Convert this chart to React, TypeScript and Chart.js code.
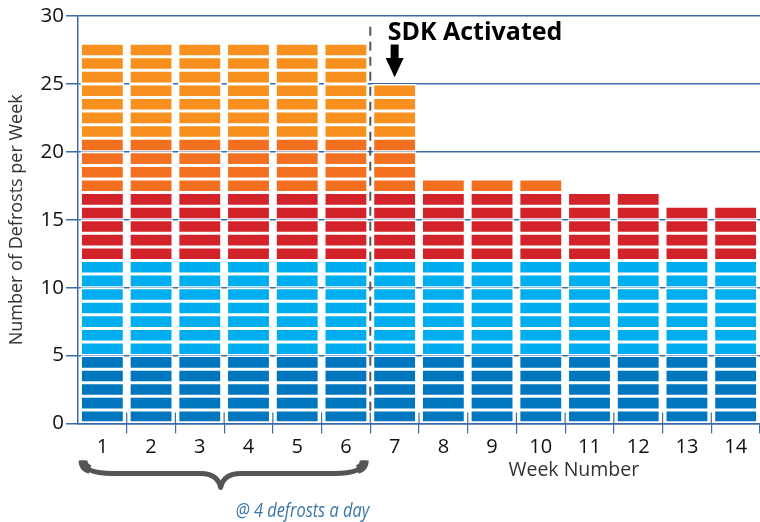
import React, { useEffect, useRef } from "react";
import { Chart, registerables } from "chart.js";

Chart.register(...registerables);

const weeks = ["1", "2", "3", "4", "5", "6", "7", "8", "9", "10", "11", "12", "13", "14"];
// number of defrost blocks of each colour per week (stacked bottom → top)
const darkBlueDefrosts = [5, 5, 5, 5, 5, 5, 5, 5, 5, 5, 5, 5, 5, 5];
const lightBlueDefrosts = [7, 7, 7, 7, 7, 7, 7, 7, 7, 7, 7, 7, 7, 7];
const redDefrosts = [5, 5, 5, 5, 5, 5, 5, 5, 5, 5, 5, 5, 4, 4];
const darkOrangeDefrosts = [4, 4, 4, 4, 4, 4, 4, 1, 1, 1, 0, 0, 0, 0];
const lightOrangeDefrosts = [7, 7, 7, 7, 7, 7, 4, 0, 0, 0, 0, 0, 0, 0];
const yTicks = [0, 5, 10, 15, 20, 25, 30];

const annotationText = "SDK Activated";
const braceText = "@ 4 defrosts a day";
const xTitle = "Week Number";
const yTitle = "Number of Defrosts per Week";

const groups: { counts: number[]; color: string }[] = [
  { counts: darkBlueDefrosts, color: "#0076BF" },
  { counts: lightBlueDefrosts, color: "#00ADEE" },
  { counts: redDefrosts, color: "#D2232A" },
  { counts: darkOrangeDefrosts, color: "#F37021" },
  { counts: lightOrangeDefrosts, color: "#F7901E" },
];

const AXIS_BLUE = "#3A69AC";

function buildDatasets() {
  const ds: any[] = [];
  groups.forEach((g) => {
    const max = Math.max(...g.counts);
    for (let k = 0; k < max; k++) {
      ds.push({
        data: g.counts.map((c) => (c > k ? 1 : null)),
        backgroundColor: g.color,
        borderColor: "#ffffff",
        borderWidth: 1.5,
        borderSkipped: false,
        stack: "s",
        categoryPercentage: 1,
        barPercentage: 0.9,
      });
    }
  });
  return ds;
}

const annotations = {
  id: "annotations",
  beforeDatasetsDraw(chart: any) {
    const { ctx } = chart;
    const x = chart.scales.x;
    const y = chart.scales.y;
    ctx.save();
    // tick marks crossing the x axis upward
    ctx.strokeStyle = AXIS_BLUE;
    ctx.lineWidth = 1.2;
    for (let i = 0; i < weeks.length - 1; i++) {
      const px = (x.getPixelForValue(i) + x.getPixelForValue(i + 1)) / 2;
      ctx.beginPath();
      ctx.moveTo(px, y.bottom - 11);
      ctx.lineTo(px, y.bottom);
      ctx.stroke();
    }
    // dashed separator between week 6 and 7
    const dx = (x.getPixelForValue(5) + x.getPixelForValue(6)) / 2;
    ctx.strokeStyle = "#555555";
    ctx.lineWidth = 2;
    ctx.setLineDash([9, 6]);
    ctx.beginPath();
    ctx.moveTo(dx, y.getPixelForValue(29.2));
    ctx.lineTo(dx, y.bottom - 11);
    ctx.stroke();
    ctx.restore();
  },
  afterDraw(chart: any) {
    const { ctx } = chart;
    const x = chart.scales.x;
    const y = chart.scales.y;
    ctx.save();
    // arrow + label above week 7
    const ax = x.getPixelForValue(6);
    const shaftTop = y.getPixelForValue(27.9);
    const headTop = y.getPixelForValue(26.9);
    const tip = y.getPixelForValue(25.5);
    ctx.fillStyle = "#000000";
    ctx.fillRect(ax - 4, shaftTop, 8, headTop - shaftTop + 1);
    ctx.beginPath();
    ctx.moveTo(ax - 9, headTop);
    ctx.lineTo(ax + 9, headTop);
    ctx.lineTo(ax, tip);
    ctx.closePath();
    ctx.fill();
    ctx.font = "bold 25px 'Open Sans'";
    ctx.textAlign = "left";
    ctx.textBaseline = "alphabetic";
    ctx.fillText(annotationText, ax - 7, y.getPixelForValue(28.25));

    // brace under weeks 1-6
    const x0 = x.getPixelForValue(0) - (x.getPixelForValue(1) - x.getPixelForValue(0)) / 2 + 1;
    const x1 = (x.getPixelForValue(5) + x.getPixelForValue(6)) / 2 - 2;
    const xc = (x0 + x1) / 2 - 3;
    const yTop = y.bottom + 37;
    const yMid = y.bottom + 50;
    const yTip = y.bottom + 64;
    ctx.strokeStyle = "#555555";
    ctx.lineWidth = 5;
    ctx.lineJoin = "round";
    ctx.beginPath();
    ctx.moveTo(x0 + 4, yTop);
    ctx.quadraticCurveTo(x0 + 4, yMid, x0 + 34, yMid);
    ctx.lineTo(xc - 20, yMid);
    ctx.quadraticCurveTo(xc - 3, yMid, xc, yTip);
    ctx.quadraticCurveTo(xc + 3, yMid, xc + 20, yMid);
    ctx.lineTo(x1 - 34, yMid);
    ctx.quadraticCurveTo(x1 - 4, yMid, x1 - 4, yTop);
    ctx.stroke();
    ctx.lineWidth = 9;
    ctx.beginPath();
    ctx.moveTo(x0 + 4, yTop);
    ctx.quadraticCurveTo(x0 + 4, yTop + 7, x0 + 11, yTop + 9);
    ctx.moveTo(x1 - 4, yTop);
    ctx.quadraticCurveTo(x1 - 4, yTop + 7, x1 - 11, yTop + 9);
    ctx.stroke();

    // italic note
    ctx.fillStyle = "#3A77A8";
    ctx.font = "italic 20px 'Open Sans'";
    ctx.textAlign = "right";
    ctx.textBaseline = "alphabetic";
    ctx.save();
    ctx.translate(x1 + 1, y.bottom + 93);
    ctx.scale(0.82, 1);
    ctx.fillText(braceText, 0, 0);
    ctx.restore();

    // x axis title
    ctx.fillStyle = "#333333";
    ctx.font = "19.5px 'Open Sans'";
    ctx.textAlign = "center";
    ctx.textBaseline = "middle";
    ctx.fillText(xTitle, x.left + (x.right - x.left) * 0.727, y.bottom + 47);
    ctx.restore();
  },
};

export default function App() {
  const canvasRef = useRef<HTMLCanvasElement | null>(null);

  useEffect(() => {
    document.body.style.margin = "0";
    const canvas = canvasRef.current;
    if (!canvas) return;
    const chart = new Chart(canvas, {
      type: "bar",
      data: { labels: weeks, datasets: buildDatasets() },
      options: {
        animation: false,
        responsive: false,
        devicePixelRatio: 1,
        layout: { padding: { top: 16, right: 0, left: 0, bottom: 0 } },
        plugins: { legend: { display: false }, tooltip: { enabled: false } },
        scales: {
          x: {
            stacked: true,
            offset: true,
            grid: {
              display: true,
              drawOnChartArea: false,
              drawTicks: true,
              tickLength: 10,
              lineWidth: 1.2,
              color: (c: any) => (c.index === 0 || c.index >= weeks.length ? "rgba(0,0,0,0)" : AXIS_BLUE),
            },
            border: { display: true, color: AXIS_BLUE, width: 1.5 },
            ticks: {
              color: "#111111",
              font: { family: "'Open Sans'", size: 20 },
              padding: 2,
              maxRotation: 0,
            },
            afterFit: (s: any) => {
              s.height = 98.5;
            },
          },
          y: {
            stacked: true,
            min: 0,
            max: 30,
            afterBuildTicks: (s: any) => {
              s.ticks = yTicks.map((v) => ({ value: v }));
            },
            grid: {
              color: AXIS_BLUE,
              lineWidth: 1.5,
              drawTicks: true,
              tickLength: 12,
            },
            border: { display: true, color: AXIS_BLUE, width: 1.5 },
            ticks: {
              color: "#111111",
              font: { family: "'Open Sans'", size: 20.5 },
              padding: 2,
            },
            title: {
              display: true,
              text: yTitle,
              color: "#333333",
              font: { family: "'Open Sans'", size: 18 },
              padding: { top: 6, bottom: 0 },
            },
            afterFit: (s: any) => {
              s.width = 78;
            },
          },
        },
      },
      plugins: [annotations],
    });
    return () => chart.destroy();
  }, []);

  return (
    <div style={{ width: 760, height: 522 }}>
      <canvas ref={canvasRef} width={760} height={522} style={{ width: 760, height: 522, display: "block" }} />
    </div>
  );
}
